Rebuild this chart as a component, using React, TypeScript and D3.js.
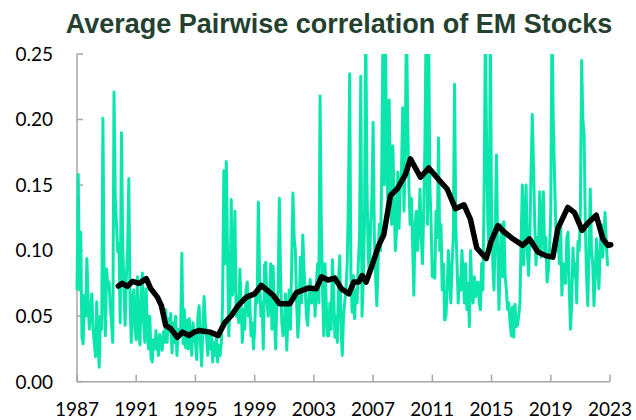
import React from "react";
import * as d3 from "d3";

// Monthly average pairwise correlation, Jan 1987 ... Dec 2022
const corr1987to1991 = [
  0.070, 0.158, 0.070, 0.114, 0.034, 0.029, 0.066, 0.050, 0.094, 0.060, 0.040, 0.055,
  0.067, 0.040, 0.030, 0.019, 0.061, 0.030, 0.011, 0.050, 0.040, 0.201, 0.080, 0.035,
  0.086, 0.072, 0.076, 0.058, 0.044, 0.030, 0.221, 0.142, 0.120, 0.099, 0.105, 0.045,
  0.190, 0.110, 0.070, 0.043, 0.080, 0.100, 0.155, 0.060, 0.030, 0.065, 0.070, 0.040,
  0.032, 0.080, 0.040, 0.028, 0.065, 0.083, 0.045, 0.030, 0.071, 0.040, 0.025, 0.050,
];
const corr1992to1996 = [
  0.018, 0.015, 0.032, 0.025, 0.039, 0.027, 0.020, 0.036, 0.030, 0.024, 0.038, 0.030,
  0.055, 0.030, 0.048, 0.038, 0.052, 0.022, 0.045, 0.030, 0.050, 0.020, 0.040, 0.035,
  0.040, 0.098, 0.029, 0.055, 0.026, 0.047, 0.025, 0.048, 0.032, 0.020, 0.045, 0.035,
  0.030, 0.017, 0.050, 0.058, 0.030, 0.012, 0.040, 0.065, 0.045, 0.033, 0.020, 0.035,
  0.025, 0.035, 0.015, 0.030, 0.020, 0.033, 0.015, 0.028, 0.020, 0.030, 0.060, 0.161,
];
const corr1997to2001 = [
  0.090, 0.168, 0.100, 0.035, 0.060, 0.139, 0.066, 0.080, 0.130, 0.050, 0.065, 0.045,
  0.086, 0.060, 0.030, 0.055, 0.040, 0.070, 0.076, 0.050, 0.065, 0.035, 0.045, 0.025,
  0.040, 0.070, 0.060, 0.137, 0.080, 0.050, 0.060, 0.025, 0.089, 0.091, 0.060, 0.050,
  0.060, 0.090, 0.040, 0.088, 0.050, 0.025, 0.060, 0.070, 0.140, 0.080, 0.045, 0.035,
  0.040, 0.067, 0.024, 0.050, 0.070, 0.040, 0.090, 0.144, 0.110, 0.100, 0.060, 0.034,
];
const corr2002to2006 = [
  0.050, 0.095, 0.060, 0.112, 0.085, 0.070, 0.050, 0.043, 0.065, 0.078, 0.060, 0.070,
  0.070, 0.050, 0.075, 0.090, 0.060, 0.218, 0.120, 0.070, 0.035, 0.090, 0.060, 0.035,
  0.035, 0.060, 0.040, 0.093, 0.070, 0.034, 0.050, 0.030, 0.078, 0.096, 0.040, 0.020,
  0.050, 0.061, 0.070, 0.090, 0.140, 0.235, 0.080, 0.053, 0.081, 0.048, 0.070, 0.060,
  0.090, 0.110, 0.233, 0.050, 0.076, 0.120, 0.280, 0.153, 0.096, 0.080, 0.120, 0.140,
];
const corr2007to2011 = [
  0.198, 0.110, 0.080, 0.058, 0.090, 0.120, 0.100, 0.160, 0.270, 0.150, 0.260, 0.178,
  0.130, 0.215, 0.150, 0.120, 0.180, 0.140, 0.100, 0.115, 0.160, 0.117, 0.150, 0.160,
  0.209, 0.130, 0.170, 0.280, 0.200, 0.150, 0.120, 0.140, 0.107, 0.066, 0.120, 0.130,
  0.100, 0.120, 0.147, 0.110, 0.090, 0.130, 0.180, 0.280, 0.120, 0.270, 0.150, 0.120,
  0.080, 0.090, 0.079, 0.130, 0.110, 0.186, 0.100, 0.120, 0.070, 0.090, 0.047, 0.050,
];
const corr2012to2016 = [
  0.070, 0.100, 0.080, 0.060, 0.090, 0.110, 0.227, 0.120, 0.090, 0.060, 0.079, 0.070,
  0.100, 0.080, 0.060, 0.090, 0.055, 0.075, 0.042, 0.100, 0.070, 0.060, 0.080, 0.065,
  0.075, 0.076, 0.060, 0.055, 0.090, 0.070, 0.150, 0.270, 0.180, 0.120, 0.100, 0.270,
  0.130, 0.090, 0.070, 0.120, 0.173, 0.100, 0.055, 0.090, 0.120, 0.080, 0.122, 0.080,
  0.070, 0.055, 0.060, 0.045, 0.035, 0.057, 0.034, 0.059, 0.042, 0.043, 0.050, 0.060,
];
const corr2017to2022 = [
  0.110, 0.150, 0.089, 0.120, 0.150, 0.100, 0.081, 0.110, 0.160, 0.204, 0.165, 0.120,
  0.089, 0.110, 0.100, 0.145, 0.095, 0.120, 0.145, 0.100, 0.110, 0.076, 0.085, 0.100,
  0.130, 0.280, 0.200, 0.158, 0.120, 0.100, 0.109, 0.090, 0.120, 0.066, 0.090, 0.080,
  0.075, 0.110, 0.114, 0.070, 0.040, 0.060, 0.102, 0.080, 0.090, 0.060, 0.107, 0.100,
  0.130, 0.245, 0.200, 0.188, 0.120, 0.080, 0.058, 0.100, 0.147, 0.100, 0.090, 0.058,
  0.080, 0.109, 0.090, 0.071, 0.100, 0.120, 0.095, 0.110, 0.129, 0.105, 0.089, 0.089,
];
const monthlyStartYear = 1987;

// Rolling average (black line): decimal years and values
const rollingDates = [
  1989.79, 1990.06, 1990.40, 1990.74, 1991.19, 1991.68, 1991.98, 1992.43, 1992.70, 1992.99,
  1993.33, 1993.78, 1994.12, 1994.57, 1994.91, 1995.24, 1995.69, 1995.99, 1996.53, 1996.98,
  1997.43, 1997.88, 1998.44, 1999.00, 1999.45, 2000.24, 2000.69, 2001.37, 2001.82, 2002.61,
  2003.17, 2003.51, 2003.96, 2004.41, 2004.86, 2005.36, 2005.69, 2006.03, 2006.26, 2006.53,
  2006.93, 2007.38, 2007.72, 2008.17, 2008.62, 2009.18, 2009.52, 2010.20, 2010.76, 2011.44,
  2012.00, 2012.56, 2013.13, 2013.57, 2014.00, 2014.64, 2014.97, 2015.43, 2015.87, 2016.44,
  2017.11, 2017.56, 2018.13, 2018.69, 2019.14, 2019.48, 2020.15, 2020.60, 2021.12, 2021.51,
  2022.07, 2022.52, 2022.86, 2023.05,
];
const rollingValues = [
  0.0730, 0.0750, 0.0727, 0.0765, 0.0750, 0.0786, 0.0710, 0.0645, 0.0580, 0.0430,
  0.0405, 0.0338, 0.0378, 0.0352, 0.0378, 0.0390, 0.0383, 0.0378, 0.0352, 0.0450,
  0.0505, 0.0580, 0.0645, 0.0670, 0.0735, 0.0660, 0.0594, 0.0594, 0.0680, 0.0714,
  0.0709, 0.0800, 0.0776, 0.0790, 0.0710, 0.0670, 0.0760, 0.0760, 0.0810, 0.0760,
  0.0888, 0.1040, 0.1120, 0.1420, 0.1470, 0.1580, 0.1700, 0.1560, 0.1630, 0.1540,
  0.1470, 0.1320, 0.1350, 0.1240, 0.1020, 0.0940, 0.1070, 0.1190, 0.1140, 0.1090,
  0.1040, 0.1090, 0.0990, 0.0960, 0.0950, 0.1170, 0.1330, 0.1290, 0.1155, 0.1210,
  0.1270, 0.1090, 0.1040, 0.1045,
];

const yTicks = [0, 0.05, 0.1, 0.15, 0.2, 0.25];
const xTicks = [1987, 1991, 1995, 1999, 2003, 2007, 2011, 2015, 2019, 2023];
const title = "Average Pairwise correlation of EM Stocks";

export default function App() {
  const W = 636;
  const H = 420;
  const left = 77;
  const right = 610;
  const top = 54;
  const bottom = 381.7;

  const x = d3.scaleLinear().domain([1987, 2023]).range([left, right]);
  const y = d3.scaleLinear().domain([0, 0.25]).range([bottom, top]);

  const monthly = [
    ...corr1987to1991,
    ...corr1992to1996,
    ...corr1997to2001,
    ...corr2002to2006,
    ...corr2007to2011,
    ...corr2012to2016,
    ...corr2017to2022,
  ].map((v, i) => ({ t: monthlyStartYear + i / 12, v }));

  const rolling = rollingDates.map((t, i) => ({ t, v: rollingValues[i] }));

  const line = d3
    .line<{ t: number; v: number }>()
    .x((d) => x(d.t))
    .y((d) => y(d.v));

  const axisColor = "#a6a6a6";
  const labelFont = "Lato, 'Open Sans', sans-serif";

  return (
    <svg
      width={W}
      height={H}
      style={{ position: "absolute", left: 0, top: 0, background: "#fff" }}
    >
      <defs>
        <clipPath id="plot">
          <rect x={left - 5} y={top} width={right - left + 15} height={bottom - top + 5} />
        </clipPath>
      </defs>
      <text
        x={339}
        y={33}
        textAnchor="middle"
        fontFamily="'Liberation Sans', Arial, sans-serif"
        fontWeight="bold"
        fontSize={27}
        fill="#24412f"
      >
        {title}
      </text>

      {/* axes */}
      <line x1={left} x2={left} y1={top} y2={bottom} stroke={axisColor} strokeWidth={1.5} />
      <line x1={left} x2={right} y1={bottom} y2={bottom} stroke={axisColor} strokeWidth={1.5} />
      {yTicks.map((t) => (
        <g key={"y" + t}>
          <line x1={left} x2={left + 6} y1={y(t)} y2={y(t)} stroke={axisColor} strokeWidth={1.5} />
          <text
            x={53}
            y={y(t)}
            dy="0.36em"
            textAnchor="end"
            fontFamily={labelFont}
            fontSize={19}
            fill="#000"
          >
            {t.toFixed(2)}
          </text>
        </g>
      ))}
      {xTicks.map((t) => (
        <g key={"x" + t}>
          <line x1={x(t)} x2={x(t)} y1={bottom} y2={bottom - 7} stroke={axisColor} strokeWidth={1.5} />
          <text
            x={x(t)}
            y={416}
            textAnchor="middle"
            fontFamily={labelFont}
            fontSize={19}
            fill="#000"
          >
            {t}
          </text>
        </g>
      ))}

      <g clipPath="url(#plot)">
        <path
          d={line(monthly) || ""}
          fill="none"
          stroke="#0ce6ad"
          strokeWidth={3}
          strokeLinejoin="round"
        />
        <path
          d={line(rolling) || ""}
          fill="none"
          stroke="#000"
          strokeWidth={5.5}
          strokeLinejoin="round"
          strokeLinecap="round"
        />
      </g>
    </svg>
  );
}
